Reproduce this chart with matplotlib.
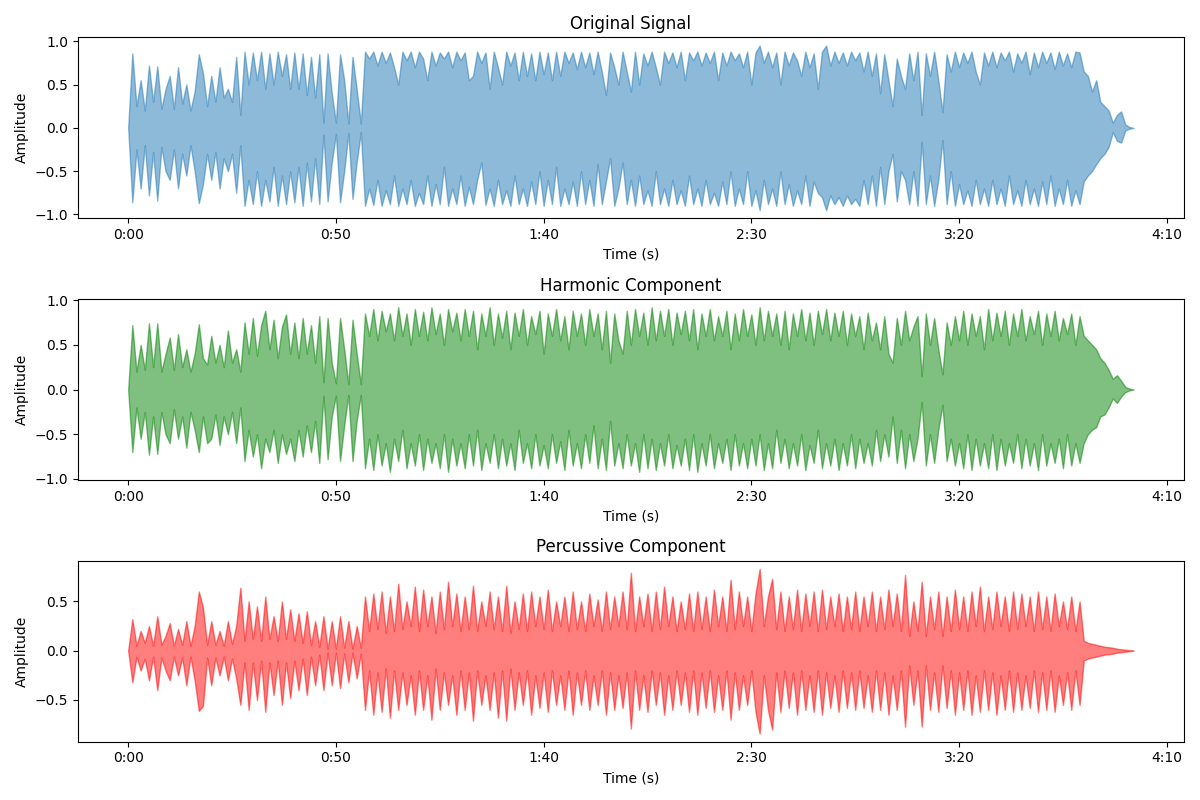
import numpy as np
import matplotlib
matplotlib.use("Agg")
import matplotlib.pyplot as plt
from matplotlib.ticker import FuncFormatter, MultipleLocator

# envelope samples, one per second (t = 0 .. 242 s)
O_UP = [0, .86, .25, .55, .2, .72, .3, .71, .22, .45,
        .6, .22, .7, .28, .5, .2, .42, .85, .63, .25,
        .6, .3, .7, .35, .45, .3, .82, .15, .88, .5,
        .87, .55, .88, .45, .86, .5, .88, .6, .85, .45,
        .87, .45, .86, .38, .82, .35, .85, .06, .86, .4,
        .06, .85, .55, .05, .82, .45, .05, .88, .8, .88,
        .72, .88, .75, .87, .7, .5, .88, .78, .88, .7,
        .88, .8, .55, .88, .72, .87, .8, .88, .7, .88,
        .78, .87, .55, .6, .88, .75, .87, .45, .88, .7,
        .5, .88, .72, .87, .55, .88, .6, .86, .55, .88,
        .62, .87, .55, .88, .6, .88, .75, .87, .68, .88,
        .7, .87, .62, .88, .65, .38, .87, .7, .5, .88,
        .65, .42, .88, .5, .86, .72, .88, .7, .5, .88,
        .75, .87, .7, .88, .55, .87, .78, .88, .72, .87,
        .75, .88, .55, .87, .72, .88, .78, .86, .7, .88,
        .5, .87, .95, .75, .88, .7, .87, .5, .88, .72,
        .87, .78, .6, .88, .7, .86, .45, .88, .95, .72,
        .88, .75, .87, .72, .88, .78, .87, .65, .88, .6,
        .86, .4, .85, .55, .25, .8, .6, .45, .86, .55,
        .88, .15, .86, .6, .88, .55, .18, .85, .65, .88,
        .7, .87, .75, .88, .65, .5, .87, .72, .88, .7,
        .87, .78, .88, .65, .86, .75, .88, .62, .87, .7,
        .88, .75, .87, .68, .88, .72, .86, .7, .88, .87,
        .65, .6, .42, .55, .3, .25, .2, .06, .15, .19,
        .04, .01, 0]
O_LO = [0, -.86, -.25, -.7, -.2, -.78, -.28, -.84, -.22, -.5,
        -.6, -.25, -.7, -.3, -.55, -.2, -.5, -.87, -.65, -.3,
        -.6, -.28, -.7, -.35, -.5, -.3, -.75, -.2, -.9, -.6,
        -.88, -.5, -.9, -.6, -.85, -.45, -.9, -.55, -.88, -.5,
        -.86, -.45, -.9, -.4, -.85, -.35, -.88, -.08, -.85, -.4,
        -.07, -.86, -.5, -.06, -.82, -.4, -.05, -.9, -.7, -.89,
        -.6, -.9, -.72, -.88, -.55, -.9, -.7, -.88, -.6, -.9,
        -.75, -.88, -.55, -.9, -.65, -.88, -.45, -.9, -.7, -.88,
        -.55, -.9, -.68, -.88, -.6, -.4, -.89, -.7, -.9, -.6,
        -.88, -.72, -.9, -.55, -.88, -.7, -.9, -.62, -.88, -.5,
        -.9, -.6, -.88, -.45, -.9, -.7, -.88, -.62, -.9, -.5,
        -.88, -.6, -.9, -.42, -.88, -.62, -.35, -.9, -.7, -.4,
        -.88, -.6, -.9, -.55, -.88, -.72, -.9, -.5, -.88, -.7,
        -.9, -.6, -.88, -.72, -.9, -.55, -.88, -.7, -.9, -.6,
        -.88, -.75, -.9, -.62, -.88, -.5, -.9, -.7, -.88, -.5,
        -.9, -.72, -.95, -.6, -.88, -.7, -.9, -.5, -.88, -.65,
        -.9, -.72, -.88, -.55, -.9, -.62, -.75, -.8, -.95, -.78,
        -.88, -.8, -.9, -.78, -.88, -.82, -.9, -.6, -.88, -.55,
        -.9, -.45, -.88, -.5, -.3, -.85, -.5, -.6, -.88, -.5,
        -.9, -.16, -.88, -.55, -.9, -.6, -.14, -.88, -.5, -.9,
        -.65, -.88, -.72, -.9, -.6, -.88, -.7, -.9, -.6, -.88,
        -.7, -.9, -.55, -.88, -.72, -.9, -.6, -.88, -.7, -.9,
        -.62, -.88, -.55, -.9, -.7, -.88, -.6, -.9, -.72, -.88,
        -.62, -.55, -.5, -.42, -.35, -.3, -.22, -.05, -.15, -.17,
        -.03, -.01, 0]
H_UP = [0, .72, .2, .5, .22, .74, .25, .74, .2, .4,
        .58, .22, .62, .25, .45, .2, .4, .73, .35, .28,
        .6, .3, .5, .25, .66, .3, .45, .2, .75, .4,
        .8, .38, .72, .88, .45, .78, .35, .7, .84, .4,
        .75, .35, .8, .4, .72, .3, .82, .08, .8, .3,
        .07, .8, .45, .06, .78, .4, .06, .85, .6, .9,
        .55, .88, .65, .85, .55, .92, .6, .85, .5, .9,
        .6, .87, .55, .92, .62, .85, .5, .9, .65, .86,
        .55, .9, .6, .88, .45, .85, .6, .92, .5, .85,
        .58, .88, .45, .86, .6, .9, .5, .82, .62, .88,
        .4, .85, .6, .9, .55, .82, .45, .88, .6, .85,
        .5, .9, .6, .85, .45, .88, .3, .85, .55, .4,
        .88, .5, .9, .6, .86, .5, .92, .55, .88, .6,
        .9, .5, .86, .62, .88, .55, .9, .45, .85, .6,
        .9, .55, .82, .6, .88, .45, .85, .55, .9, .6,
        .84, .5, .92, .55, .88, .6, .85, .5, .88, .45,
        .85, .6, .9, .55, .86, .5, .88, .62, .9, .55,
        .86, .6, .88, .5, .85, .6, .82, .45, .86, .55,
        .75, .45, .82, .4, .3, .8, .5, .88, .55, .7,
        .82, .15, .85, .5, .8, .45, .17, .75, .5, .82,
        .55, .88, .5, .85, .6, .82, .45, .9, .55, .86,
        .6, .88, .5, .85, .6, .9, .55, .82, .62, .88,
        .5, .85, .6, .88, .55, .8, .62, .85, .5, .82,
        .6, .55, .5, .45, .35, .3, .22, .12, .16, .1,
        .03, .01, 0]
H_LO = [0, -.7, -.2, -.55, -.25, -.73, -.3, -.72, -.25, -.5,
        -.6, -.22, -.55, -.3, -.65, -.25, -.45, -.7, -.3, -.6,
        -.55, -.28, -.62, -.3, -.5, -.25, -.6, -.2, -.8, -.45,
        -.75, -.5, -.88, -.55, -.7, -.45, -.82, -.5, -.72, -.55,
        -.8, -.45, -.75, -.4, -.7, -.35, -.82, -.07, -.78, -.3,
        -.07, -.8, -.4, -.06, -.8, -.35, -.06, -.88, -.55, -.9,
        -.5, -.85, -.6, -.92, -.55, -.8, -.45, -.88, -.6, -.85,
        -.5, -.9, -.55, -.82, -.6, -.88, -.5, -.92, -.55, -.85,
        -.6, -.88, -.5, -.85, -.45, -.9, -.6, -.82, -.5, -.88,
        -.55, -.85, -.6, -.9, -.45, -.82, -.6, -.88, -.5, -.85,
        -.62, -.88, -.5, -.82, -.58, -.9, -.45, -.85, -.6, -.88,
        -.5, -.82, -.4, -.88, -.55, -.9, -.35, -.85, -.6, -.88,
        -.5, -.85, -.6, -.92, -.5, -.88, -.55, -.9, -.6, -.85,
        -.5, -.88, -.62, -.85, -.55, -.9, -.5, -.92, -.6, -.85,
        -.5, -.88, -.6, -.82, -.55, -.9, -.5, -.85, -.6, -.88,
        -.55, -.85, -.5, -.9, -.6, -.88, -.45, -.82, -.55, -.88,
        -.6, -.85, -.5, -.9, -.62, -.82, -.45, -.88, -.6, -.85,
        -.55, -.9, -.6, -.85, -.5, -.88, -.55, -.82, -.6, -.85,
        -.45, -.8, -.5, -.75, -.3, -.82, -.45, -.88, -.5, -.8,
        -.55, -.14, -.85, -.5, -.82, -.45, -.17, -.8, -.55, -.85,
        -.6, -.88, -.5, -.9, -.55, -.85, -.6, -.88, -.5, -.9,
        -.55, -.85, -.6, -.82, -.5, -.88, -.55, -.85, -.6, -.9,
        -.5, -.85, -.6, -.82, -.55, -.88, -.5, -.85, -.6, -.82,
        -.6, -.5, -.45, -.42, -.3, -.28, -.2, -.1, -.15, -.08,
        -.03, -.01, 0]
P_UP = [0, .32, .05, .2, .08, .25, .05, .35, .06, .15,
        .28, .05, .22, .06, .3, .05, .25, .6, .44, .06,
        .3, .06, .2, .05, .3, .07, .25, .64, .1, .5,
        .12, .45, .1, .55, .12, .35, .1, .5, .12, .42,
        .1, .38, .08, .4, .06, .3, .04, .35, .02, .3,
        .02, .35, .03, .3, .02, .25, .03, .55, .2, .58,
        .22, .6, .18, .55, .2, .68, .22, .5, .25, .65,
        .2, .62, .25, .55, .18, .6, .22, .7, .25, .58,
        .2, .55, .22, .66, .2, .5, .25, .6, .22, .55,
        .2, .66, .18, .5, .22, .58, .2, .6, .25, .55,
        .22, .62, .2, .5, .25, .55, .2, .6, .22, .5,
        .2, .58, .25, .52, .2, .6, .22, .55, .25, .6,
        .22, .79, .2, .55, .25, .58, .2, .6, .22, .65,
        .25, .55, .2, .5, .22, .58, .2, .6, .22, .55,
        .2, .62, .25, .55, .2, .72, .22, .6, .25, .55,
        .2, .58, .83, .25, .55, .73, .22, .6, .2, .55,
        .22, .62, .2, .58, .25, .6, .2, .62, .22, .55,
        .25, .58, .2, .55, .22, .6, .2, .55, .25, .6,
        .2, .55, .22, .62, .25, .58, .2, .77, .15, .5,
        .2, .7, .15, .55, .22, .6, .15, .55, .2, .62,
        .22, .55, .2, .6, .25, .65, .2, .55, .22, .6,
        .25, .55, .2, .6, .22, .58, .25, .55, .2, .6,
        .22, .55, .2, .58, .25, .5, .22, .55, .2, .5,
        .1, .08, .07, .06, .05, .04, .035, .03, .02, .015,
        .01, .005, 0]
P_LO = [0, -.32, -.06, -.2, -.08, -.3, -.06, -.4, -.07, -.2,
        -.3, -.06, -.25, -.07, -.35, -.06, -.3, -.61, -.56, -.07,
        -.35, -.07, -.25, -.06, -.3, -.08, -.28, -.55, -.12, -.6,
        -.12, -.5, -.1, -.62, -.12, -.45, -.1, -.55, -.12, -.48,
        -.1, -.4, -.08, -.45, -.06, -.35, -.04, -.4, -.02, -.35,
        -.02, -.38, -.03, -.32, -.02, -.28, -.03, -.6, -.2, -.65,
        -.22, -.62, -.18, -.68, -.2, -.6, -.22, -.55, -.25, -.65,
        -.2, -.6, -.25, -.7, -.18, -.6, -.22, -.55, -.25, -.65,
        -.2, -.6, -.22, -.71, -.2, -.55, -.25, -.6, -.22, -.68,
        -.2, -.71, -.18, -.6, -.22, -.55, -.2, -.65, -.25, -.58,
        -.22, -.62, -.2, -.55, -.25, -.6, -.2, -.65, -.22, -.55,
        -.2, -.6, -.25, -.55, -.2, -.65, -.22, -.6, -.25, -.58,
        -.22, -.79, -.2, -.6, -.25, -.62, -.2, -.55, -.22, -.65,
        -.25, -.6, -.2, -.55, -.22, -.62, -.2, -.65, -.22, -.58,
        -.2, -.62, -.25, -.6, -.2, -.7, -.22, -.6, -.25, -.55,
        -.2, -.62, -.84, -.25, -.6, -.8, -.22, -.62, -.2, -.58,
        -.22, -.65, -.2, -.6, -.25, -.62, -.2, -.65, -.22, -.58,
        -.25, -.62, -.2, -.58, -.22, -.6, -.2, -.58, -.25, -.62,
        -.2, -.6, -.22, -.65, -.25, -.6, -.2, -.77, -.15, -.55,
        -.2, -.77, -.15, -.6, -.22, -.62, -.15, -.58, -.2, -.65,
        -.22, -.6, -.2, -.65, -.25, -.62, -.2, -.6, -.22, -.65,
        -.25, -.6, -.2, -.62, -.22, -.6, -.25, -.58, -.2, -.62,
        -.22, -.6, -.2, -.62, -.25, -.55, -.22, -.6, -.2, -.55,
        -.1, -.08, -.07, -.06, -.05, -.04, -.035, -.03, -.02, -.015,
        -.01, -.005, 0]

TITLES = ["Original Signal", "Harmonic Component", "Percussive Component"]
COLORS = ["#1f77b4", "g", "r"]
SERIES = [(O_UP, O_LO), (H_UP, H_LO), (P_UP, P_LO)]

times = np.arange(len(O_UP), dtype=float)


def fmt_time(x, pos):
    s = int(round(x))
    sign = "-" if s < 0 else ""
    s = abs(s)
    return f"{sign}{s // 60}:{s % 60:02d}"


fig, axes = plt.subplots(3, 1, figsize=(12, 8), dpi=100)
for ax, title, color, (up, lo) in zip(axes, TITLES, COLORS, SERIES):
    ax.fill_between(times, lo, up, color=color, alpha=0.5, linewidth=1)
    ax.set_title(title)
    ax.set_xlabel("Time (s)")
    ax.set_ylabel("Amplitude")
    ax.xaxis.set_major_locator(MultipleLocator(50))
    ax.xaxis.set_major_formatter(FuncFormatter(fmt_time))

fig.tight_layout()
fig.savefig("out.png")
